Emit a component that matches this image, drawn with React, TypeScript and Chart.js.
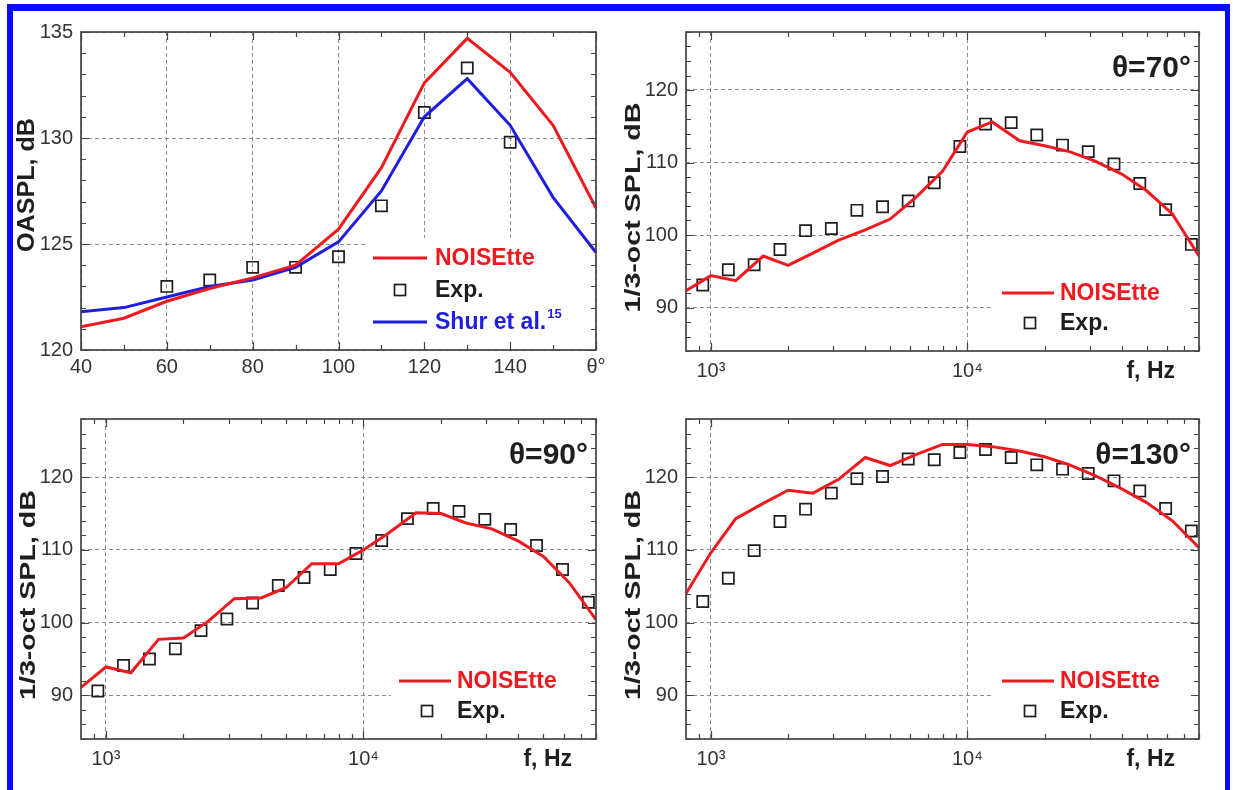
import React, { useEffect, useRef } from 'react';
import { Chart, registerables } from 'chart.js';

Chart.register(...registerables);

// ---------------- data ----------------
// Panel (a): OASPL directivity
const thetaDeg = [40, 50, 60, 70, 80, 90, 100, 110, 120, 130, 140, 150, 160];
const oasplNoisette = [121.1, 121.5, 122.3, 122.9, 123.4, 124.0, 125.7, 128.6, 132.6, 134.7, 133.1, 130.6, 126.7];
const oasplShur = [121.8, 122.0, 122.5, 123.0, 123.3, 123.9, 125.1, 127.5, 131.0, 132.8, 130.6, 127.2, 124.6];
const thetaExp = [60, 70, 80, 90, 100, 110, 120, 130, 140];
const oasplExp = [123.0, 123.3, 123.9, 123.9, 124.4, 126.8, 131.2, 133.3, 129.8];
const thetaTicks = [40, 60, 80, 100, 120, 140, 160];
const thetaTickLabels = ['40', '60', '80', '100', '120', '140', 'θ°'];
const thetaMinorTicks = [50, 70, 90, 110, 130, 150];
const oasplTicks = [120, 125, 130, 135];
const oasplMinorTicks = [121, 122, 123, 124, 126, 127, 128, 129, 131, 132, 133, 134];

// Panels (b)-(d): 1/3-octave spectra
const freqCalc = [800, 1000, 1250, 1600, 2000, 2500, 3150, 4000, 5000, 6300, 8000, 10000, 12500, 16000, 20000, 25000, 31500, 40000, 50000, 63000, 80000];
const freqExp = [930, 1170, 1475, 1860, 2340, 2950, 3710, 4670, 5880, 7430, 9350, 11770, 14820, 18650, 23500, 29600, 37300, 47000, 59300, 74700];
const spl70Calc = [92.3, 94.4, 93.7, 97.1, 95.8, 97.5, 99.3, 100.7, 102.2, 105.2, 108.8, 114.2, 115.6, 113.0, 112.3, 111.5, 110.2, 108.4, 106.1, 102.9, 97.1];
const spl70Exp = [93.1, 95.2, 95.9, 98.0, 100.6, 100.9, 103.4, 103.9, 104.7, 107.2, 112.2, 115.3, 115.5, 113.8, 112.4, 111.5, 109.8, 107.1, 103.5, 98.7];
const spl90Calc = [91.1, 93.9, 93.1, 97.7, 97.9, 100.2, 103.3, 103.4, 104.8, 108.1, 108.1, 110.0, 112.3, 115.1, 115.0, 113.7, 112.9, 111.2, 109.1, 105.5, 100.4];
const spl90Exp = [90.6, 94.1, 95.0, 96.4, 98.9, 100.5, 102.7, 105.1, 106.2, 107.3, 109.5, 111.3, 114.3, 115.7, 115.3, 114.2, 112.8, 110.6, 107.3, 102.8];
const spl130Calc = [104.0, 109.6, 114.3, 116.4, 118.2, 117.8, 119.7, 122.7, 121.6, 123.1, 124.5, 124.5, 124.2, 123.6, 122.8, 121.7, 120.2, 118.4, 116.5, 114.0, 110.3];
const spl130Exp = [102.9, 106.1, 109.9, 113.9, 115.6, 117.8, 119.8, 120.1, 122.5, 122.4, 123.4, 123.8, 122.7, 121.7, 121.1, 120.5, 119.5, 118.1, 115.7, 112.6];
const freqTicks = [1000, 10000];
const freqTickLabels = ['10³', '10⁴'];
const freqMinorTicks = [900, 2000, 3000, 4000, 5000, 6000, 7000, 8000, 9000, 20000, 30000, 40000, 50000, 60000, 70000, 80000];
const splTicks = [90, 100, 110, 120];
const splMinorTicks = [84, 86, 88, 92, 94, 96, 98, 102, 104, 106, 108, 112, 114, 116, 118, 122, 124, 126, 128];
const panelAngles = ['θ=70°', 'θ=90°', 'θ=130°'];

const nameCalc = 'NOISEtte';
const nameExp = 'Exp.';
const nameRef = 'Shur et al.';
const refNote = '15';
const yTitleOaspl = 'OASPL, dB';
const yTitleSpl = '1/3-oct SPL, dB';
const xTitleFreq = 'f, Hz';

// ---------------- styles ----------------
const FONT = "'Liberation Sans', Arial, Helvetica, sans-serif";
const RED = '#ee1a1f';
const BLUE = '#1e1ee0';
const INK = '#1e1e1e';
const TICK_INK = '#333333';
const GRID = '#8c8c8c';
const FRAME = '#444444';
const BORDER_BLUE = '#0a0aff';

type Rect = { x: number; y: number; w: number; h: number };
type Area = { l: number; t: number; r: number; b: number };

type LegendItem = { ds: number; kind: 'line' | 'square'; color: string; sup?: string };
type Spec = {
  key: string;
  canvas: Rect;
  area: Area;
  datasets: any[];
  xType: 'linear' | 'logarithmic';
  xMin: number; xMax: number;
  xTicks: number[]; xLabels: string[]; xMinor: number[];
  yMin: number; yMax: number;
  yTicks: number[]; yMinor: number[];
  xLabelPad: number;
  yTitle: string; yTitleSize: number; yTitleLen: number; yTitleDx: number; yTitleDy: number;
  xTitle?: string;
  angle?: string;
  legend: {
    items: LegendItem[]; rows: number[];
    lineX0: number; lineX1: number; squareX: number; textX: number;
    boxW: number; boxH: number;
  };
};

function pts(xs: number[], ys: number[]) {
  return xs.map((x, i) => ({ x, y: ys[i] }));
}

function lineDs(label: string, xs: number[], ys: number[], color: string) {
  return {
    label,
    data: pts(xs, ys),
    borderColor: color,
    backgroundColor: color,
    borderWidth: 3,
    pointRadius: 0,
    tension: 0,
    fill: false,
  };
}

function expDs(label: string, xs: number[], ys: number[]) {
  return {
    label,
    data: pts(xs, ys),
    showLine: false,
    pointStyle: 'rect',
    pointRadius: 7.9,
    pointBorderWidth: 1.7,
    pointBorderColor: INK,
    pointBackgroundColor: 'rgba(0,0,0,0)',
    borderColor: INK,
    backgroundColor: 'rgba(0,0,0,0)',
  };
}

function makeDeco(spec: Spec) {
  return {
    id: 'deco-' + spec.key,
    beforeDatasetsDraw(chart: any) {
      const { ctx, chartArea: a } = chart;
      ctx.save();
      ctx.fillStyle = '#ffffff';
      ctx.fillRect(a.right - spec.legend.boxW, a.bottom - spec.legend.boxH, spec.legend.boxW, spec.legend.boxH);
      ctx.restore();
    },
    afterDraw(chart: any) {
      const { ctx, chartArea: a } = chart;
      const xs = chart.scales.x;
      const ys = chart.scales.y;
      ctx.save();

      // inward ticks on all four sides
      ctx.strokeStyle = FRAME;
      ctx.lineWidth = 1.2;
      ctx.beginPath();
      const xTick = (v: number, len: number) => {
        const px = Math.round(xs.getPixelForValue(v)) + 0.5;
        ctx.moveTo(px, a.bottom); ctx.lineTo(px, a.bottom - len);
        ctx.moveTo(px, a.top); ctx.lineTo(px, a.top + len);
      };
      const yTick = (v: number, len: number) => {
        const py = Math.round(ys.getPixelForValue(v)) + 0.5;
        ctx.moveTo(a.left, py); ctx.lineTo(a.left + len, py);
        ctx.moveTo(a.right, py); ctx.lineTo(a.right - len, py);
      };
      spec.xTicks.forEach((v) => xTick(v, 8));
      spec.xMinor.forEach((v) => xTick(v, 5));
      spec.yTicks.forEach((v) => yTick(v, 8));
      spec.yMinor.forEach((v) => yTick(v, 5));
      ctx.stroke();

      // frame
      ctx.lineWidth = 1.7;
      ctx.strokeRect(a.left, a.top, a.right - a.left, a.bottom - a.top);

      // legend
      const lg = spec.legend;
      ctx.textBaseline = 'middle';
      ctx.textAlign = 'left';
      lg.items.forEach((it, i) => {
        const ds = chart.data.datasets[it.ds];
        const y = a.bottom - lg.rows[i];
        if (it.kind === 'line') {
          ctx.strokeStyle = ds.borderColor;
          ctx.lineWidth = 3.2;
          ctx.beginPath();
          ctx.moveTo(a.right - lg.lineX0, y);
          ctx.lineTo(a.right - lg.lineX1, y);
          ctx.stroke();
        } else {
          ctx.strokeStyle = INK;
          ctx.lineWidth = 1.7;
          ctx.strokeRect(a.right - lg.squareX - 5.5, y - 5.5, 11, 11);
        }
        ctx.fillStyle = it.color;
        ctx.font = `bold 23px ${FONT}`;
        const tx = a.right - lg.textX;
        ctx.fillText(ds.label, tx, y + 1);
        if (it.sup) {
          const w = ctx.measureText(ds.label).width;
          ctx.font = `bold 13px ${FONT}`;
          ctx.fillText(it.sup, tx + w + 1, y - 8);
        }
      });

      // angle label
      if (spec.angle) {
        ctx.fillStyle = INK;
        ctx.font = `bold 30px ${FONT}`;
        ctx.textAlign = 'right';
        ctx.textBaseline = 'middle';
        ctx.fillText(spec.angle, a.right - 8, a.top + 37);
      }

      // x title (bottom right, on tick-label row)
      if (spec.xTitle) {
        ctx.fillStyle = INK;
        ctx.font = `bold 23px ${FONT}`;
        ctx.textAlign = 'right';
        ctx.textBaseline = 'middle';
        ctx.fillText(spec.xTitle, a.right - 24, a.bottom + 21);
      }

      // y title (rotated)
      ctx.save();
      ctx.translate(a.left + spec.yTitleDx, (a.top + a.bottom) / 2 + spec.yTitleDy);
      ctx.rotate(-Math.PI / 2);
      ctx.font = `bold ${spec.yTitleSize}px ${FONT}`;
      const tw = ctx.measureText(spec.yTitle).width;
      ctx.scale(spec.yTitleLen / tw, 1);
      ctx.fillStyle = INK;
      ctx.textAlign = 'center';
      ctx.textBaseline = 'middle';
      ctx.fillText(spec.yTitle, 0, 0);
      ctx.restore();

      ctx.restore();
    },
  };
}

function buildConfig(spec: Spec): any {
  const c = spec.canvas;
  const ar = spec.area;
  const tickFont = { family: FONT, size: 20 };
  return {
    type: 'line',
    data: { datasets: spec.datasets },
    options: {
      animation: false,
      responsive: false,
      maintainAspectRatio: false,
      events: [],
      layout: { padding: { top: ar.t - c.y, right: c.x + c.w - ar.r, left: 0, bottom: 0 } },
      plugins: { legend: { display: false }, tooltip: { enabled: false }, title: { display: false } },
      scales: {
        x: {
          type: spec.xType,
          min: spec.xMin,
          max: spec.xMax,
          afterBuildTicks: (s: any) => {
            s.ticks = spec.xTicks.map((v) => ({ value: v }));
          },
          afterFit: (s: any) => {
            s.height = c.y + c.h - ar.b;
          },
          ticks: {
            autoSkip: false,
            maxRotation: 0,
            minRotation: 0,
            padding: spec.xLabelPad,
            color: TICK_INK,
            font: tickFont,
            callback: (v: number) => {
              const i = spec.xTicks.indexOf(v);
              return i >= 0 ? spec.xLabels[i] : '';
            },
          },
          grid: { color: GRID, lineWidth: 1, drawTicks: false },
          border: { display: false, dash: [4, 3] },
        },
        y: {
          type: 'linear',
          min: spec.yMin,
          max: spec.yMax,
          afterBuildTicks: (s: any) => {
            s.ticks = spec.yTicks.map((v) => ({ value: v }));
          },
          afterFit: (s: any) => {
            s.width = ar.l - c.x;
          },
          ticks: {
            autoSkip: false,
            padding: 8,
            color: TICK_INK,
            font: tickFont,
            callback: (v: number) => String(v),
          },
          grid: { color: GRID, lineWidth: 1, drawTicks: false },
          border: { display: false, dash: [4, 3] },
        },
      },
    },
    plugins: [makeDeco(spec)],
  };
}

const legendSpectrum = {
  items: [
    { ds: 0, kind: 'line', color: RED },
    { ds: 1, kind: 'square', color: INK },
  ] as LegendItem[],
  rows: [58, 28],
  lineX0: 197, lineX1: 145, squareX: 169, textX: 139,
  boxW: 205, boxH: 78,
};

function spectrumSpec(key: string, canvas: Rect, area: Area, calc: number[], exp: number[], angle: string): Spec {
  return {
    key, canvas, area,
    datasets: [lineDs(nameCalc, freqCalc, calc, RED), expDs(nameExp, freqExp, exp)],
    xType: 'logarithmic', xMin: 800, xMax: 80000,
    xTicks: freqTicks, xLabels: freqTickLabels, xMinor: freqMinorTicks,
    yMin: 84, yMax: 128, yTicks: splTicks, yMinor: splMinorTicks,
    xLabelPad: 8,
    yTitle: yTitleSpl, yTitleSize: 22, yTitleLen: 210, yTitleDx: -52, yTitleDy: 16,
    xTitle: xTitleFreq,
    angle,
    legend: legendSpectrum,
  };
}

const specs: Spec[] = [
  {
    key: 'oaspl',
    canvas: { x: 14, y: 12, w: 602, h: 383 },
    area: { l: 81, t: 32, r: 596, b: 350 },
    datasets: [
      lineDs(nameCalc, thetaDeg, oasplNoisette, RED),
      lineDs(nameRef, thetaDeg, oasplShur, BLUE),
      expDs(nameExp, thetaExp, oasplExp),
    ],
    xType: 'linear', xMin: 40, xMax: 160,
    xTicks: thetaTicks, xLabels: thetaTickLabels, xMinor: thetaMinorTicks,
    yMin: 120, yMax: 135, yTicks: oasplTicks, yMinor: oasplMinorTicks,
    xLabelPad: 5,
    yTitle: yTitleOaspl, yTitleSize: 24, yTitleLen: 134, yTitleDx: -54, yTitleDy: -6,
    legend: {
      items: [
        { ds: 0, kind: 'line', color: RED },
        { ds: 2, kind: 'square', color: INK },
        { ds: 1, kind: 'line', color: BLUE, sup: refNote },
      ],
      rows: [92, 60, 28],
      lineX0: 223, lineX1: 169, squareX: 196, textX: 161,
      boxW: 229, boxH: 112,
    },
  },
  spectrumSpec('s70', { x: 616, y: 12, w: 608, h: 383 }, { l: 686, t: 31, r: 1199, b: 351 }, spl70Calc, spl70Exp, panelAngles[0]),
  spectrumSpec('s90', { x: 14, y: 395, w: 602, h: 395 }, { l: 81, t: 419, r: 596, b: 739 }, spl90Calc, spl90Exp, panelAngles[1]),
  spectrumSpec('s130', { x: 616, y: 395, w: 608, h: 395 }, { l: 686, t: 419, r: 1199, b: 739 }, spl130Calc, spl130Exp, panelAngles[2]),
];

function Panel({ spec }: { spec: Spec }) {
  const ref = useRef<HTMLCanvasElement | null>(null);
  useEffect(() => {
    if (!ref.current) return;
    const chart = new Chart(ref.current, buildConfig(spec));
    return () => chart.destroy();
  }, [spec]);
  const c = spec.canvas;
  return (
    <canvas
      ref={ref}
      width={c.w}
      height={c.h}
      style={{ position: 'absolute', left: c.x, top: c.y, width: c.w, height: c.h, display: 'block' }}
    />
  );
}

export default function App() {
  return (
    <div
      style={{
        position: 'absolute',
        left: 0,
        top: 0,
        width: 1233,
        height: 790,
        overflow: 'hidden',
        background: '#ffffff',
      }}
    >
      <div style={{ position: 'absolute', left: 7, top: 4, width: 1223, height: 7, background: BORDER_BLUE }} />
      <div style={{ position: 'absolute', left: 7, top: 4, width: 6, height: 786, background: BORDER_BLUE }} />
      <div style={{ position: 'absolute', left: 1225, top: 4, width: 5, height: 786, background: BORDER_BLUE }} />
      {specs.map((s) => (
        <Panel key={s.key} spec={s} />
      ))}
    </div>
  );
}
